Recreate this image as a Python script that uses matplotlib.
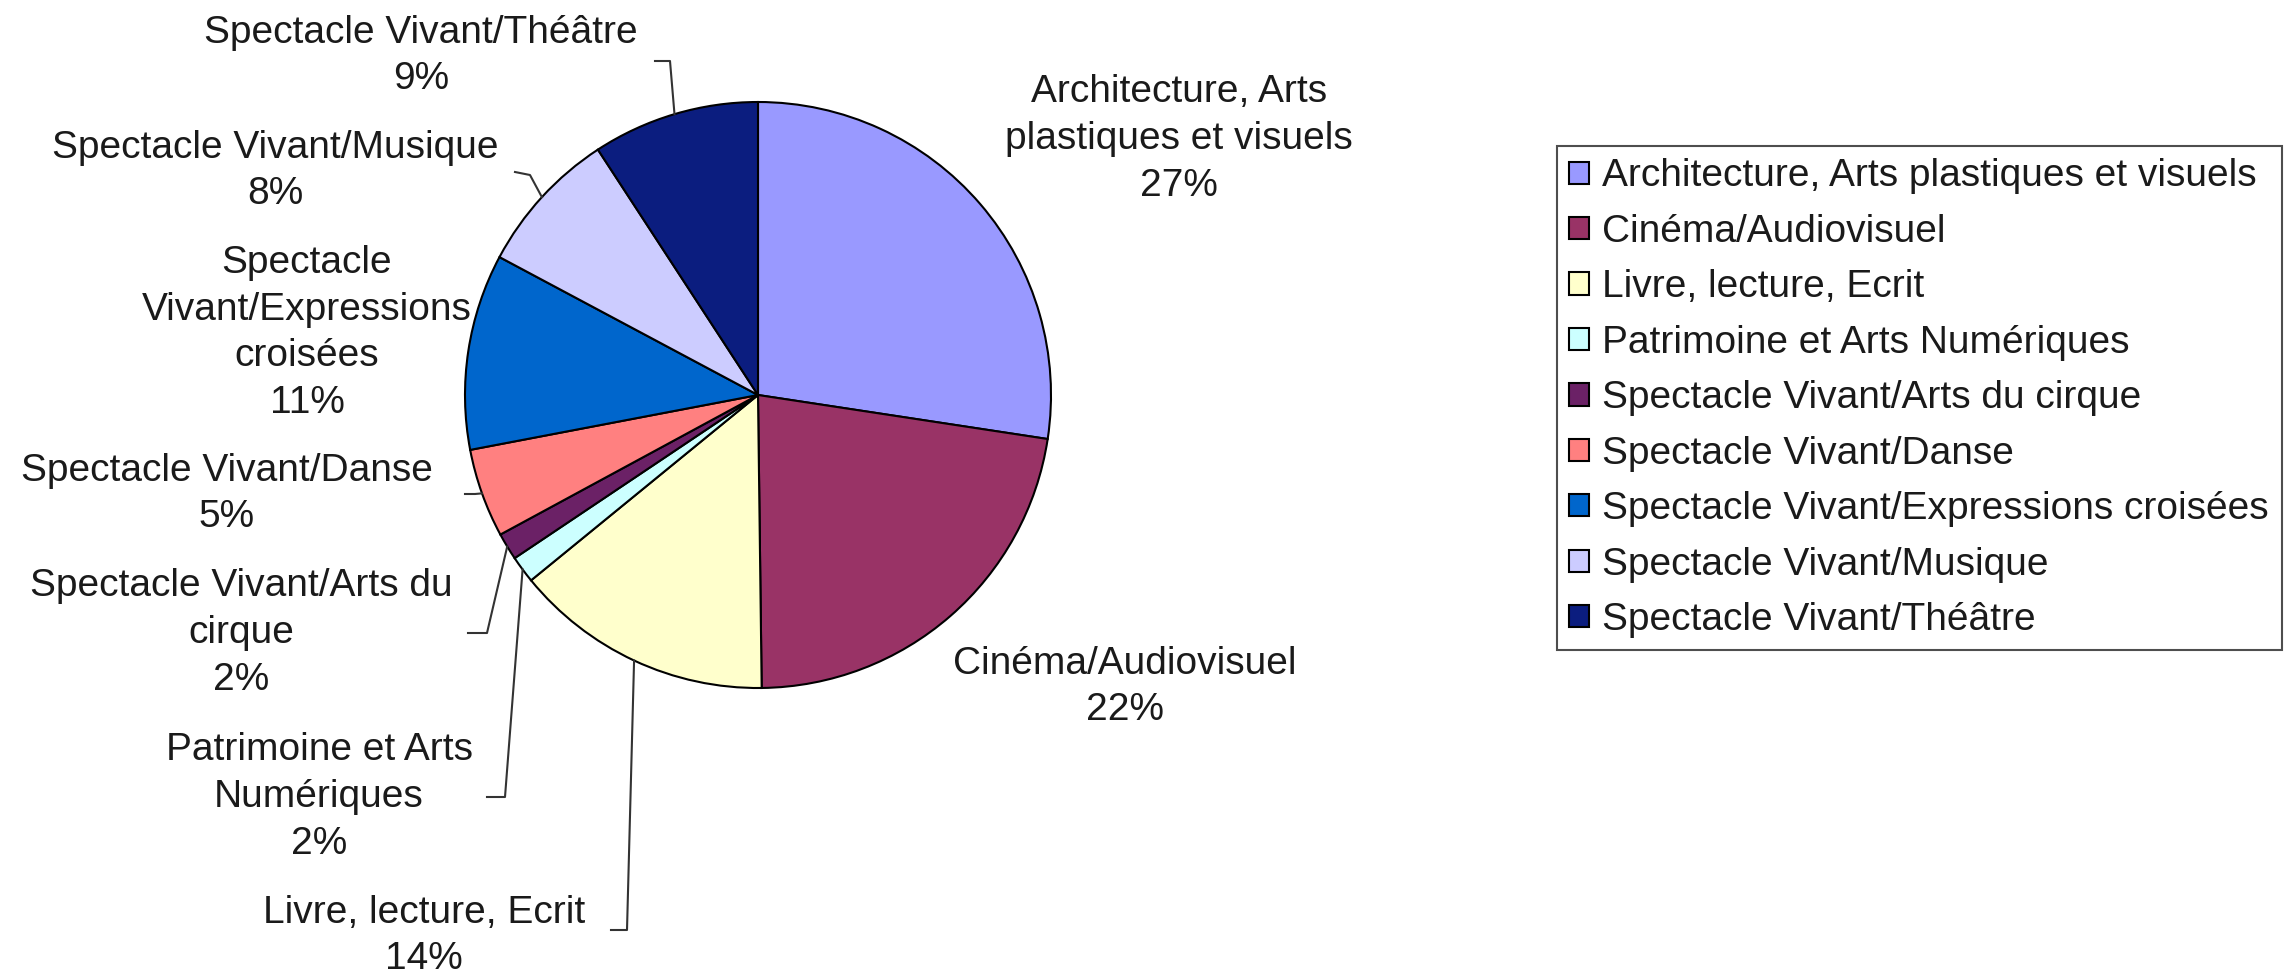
import numpy as np
import matplotlib.pyplot as plt

plt.rcParams['font.family'] = ['Liberation Sans', 'DejaVu Sans']

categories = ['Architecture, Arts plastiques et visuels', 'Cinéma/Audiovisuel',
              'Livre, lecture, Ecrit', 'Patrimoine et Arts Numériques',
              'Spectacle Vivant/Arts du cirque', 'Spectacle Vivant/Danse',
              'Spectacle Vivant/Expressions croisées', 'Spectacle Vivant/Musique',
              'Spectacle Vivant/Théâtre']
label_names = ['Architecture, Arts\nplastiques et visuels', 'Cinéma/Audiovisuel',
               'Livre, lecture, Ecrit', 'Patrimoine et Arts\nNumériques',
               'Spectacle Vivant/Arts du\ncirque', 'Spectacle Vivant/Danse',
               'Spectacle\nVivant/Expressions\ncroisées', 'Spectacle Vivant/Musique',
               'Spectacle Vivant/Théâtre']
shares = [27.4, 22.4, 14.3, 1.5, 1.5, 4.9, 10.8, 8.0, 9.2]
colors = ['#9999FF', '#993366', '#FFFFCC', '#CCFFFF', '#6B2166',
          '#FF8080', '#0066CC', '#CCCCFF', '#0B1D7F']

W, H = 2293, 974
fig = plt.figure(figsize=(W / 100, H / 100), dpi=100)
ax = fig.add_axes([0, 0, 1, 1])

cx, cy, r = 758, H - 395, 293
wedges, _ = ax.pie(shares, colors=colors, startangle=90, counterclock=False,
                   center=(cx, cy), radius=r, frame=True,
                   wedgeprops=dict(edgecolor='black', linewidth=1.5))
ax.set_xlim(0, W)
ax.set_ylim(0, H)
ax.set_aspect('equal')
ax.axis('off')

# label placement (pixel coords from top) and leader elbows
label_pos = [(1179, 139), (1125, 687), (424, 936), (319, 797), (241, 633),
             (227, 494), (307, 333), (275, 171), (421, 56)]
elbows = [None, None, [(627, 930), (611, 930)], [(505, 797), (487, 797)],
          [(487, 633), (468, 633)], [(475, 494), (465, 494)], None,
          [(530, 175), (515, 172)], [(670, 61), (655, 61)]]
tc = '#1a1a1a'
for w, name, v, (lx, ly), el in zip(wedges, label_names, shares, label_pos, elbows):
    ax.text(lx, H - ly, f'{name}\n{v:.0f}%', ha='center', va='center',
            fontsize=28, color=tc, linespacing=1.38)
    if el is not None:
        ang = np.deg2rad((w.theta1 + w.theta2) / 2)
        x0, y0 = cx + r * np.cos(ang), cy + r * np.sin(ang)
        xs = [x0] + [p[0] for p in el]
        ys = [y0] + [H - p[1] for p in el]
        ax.plot(xs, ys, color='#333333', linewidth=1.5)

leg = ax.legend(wedges, categories, loc='upper left',
                bbox_to_anchor=(1557 / W, 1 - 146 / H), bbox_transform=fig.transFigure,
                fontsize=28, frameon=True, fancybox=False, borderaxespad=0,
                handlelength=0.5, handleheight=0.5, handletextpad=0.35,
                labelspacing=0.5, borderpad=0.32)
leg.get_frame().set_edgecolor('#222222')
leg.get_frame().set_linewidth(1.5)
for t in leg.get_texts():
    t.set_color(tc)

fig.savefig('out.png', dpi=100, facecolor='white')
